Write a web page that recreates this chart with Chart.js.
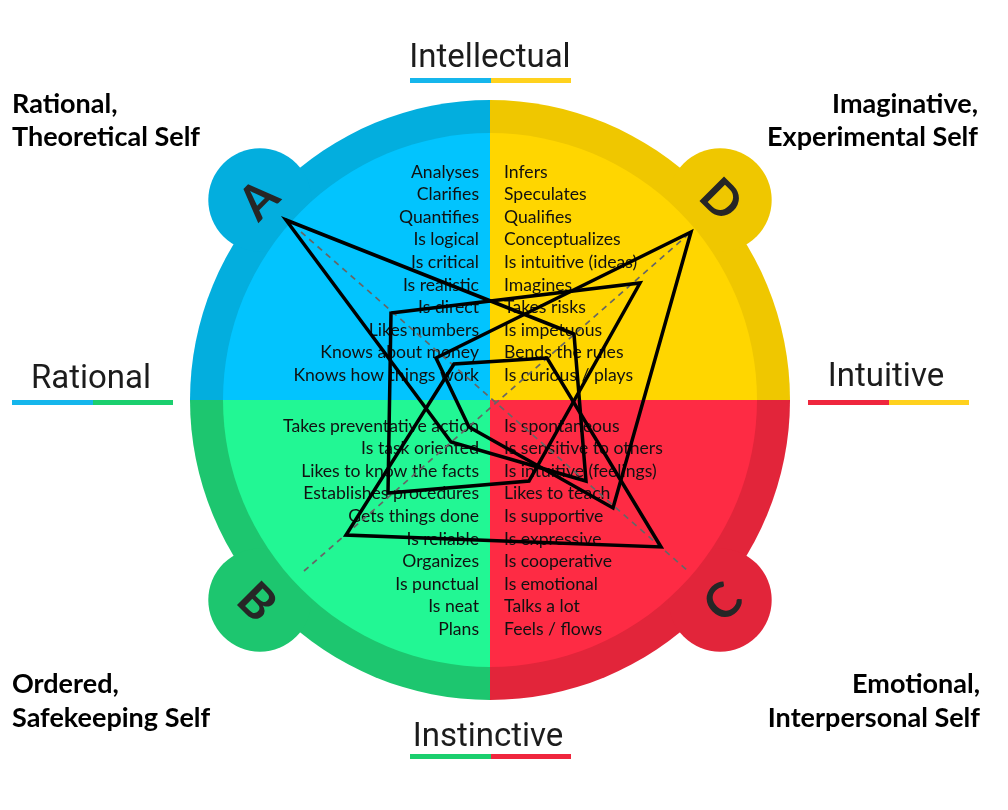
<!DOCTYPE html>
<html><head><meta charset="utf-8">
<script src="https://cdn.jsdelivr.net/npm/chart.js@4.4.1/dist/chart.umd.min.js"></script>
<style>html,body{margin:0;padding:0;background:#fff;}#wrap{width:1008px;height:810px;position:relative;}</style>
</head><body><div id="wrap"><canvas id="c" width="1008" height="810"></canvas></div>
<script>
// ---- data ----
const quadrantA = ["Analyses","Clarifies","Quantifies","Is logical","Is critical","Is realistic","Is direct","Likes numbers","Knows about money","Knows how things work"];
const quadrantD = ["Infers","Speculates","Qualifies","Conceptualizes","Is intuitive (ideas)","Imagines","Takes risks","Is impetuous","Bends the rules","Is curious / plays"];
const quadrantB = ["Takes preventative action","Is task oriented","Likes to know the facts","Establishes procedures","Gets things done","Is reliable","Organizes","Is punctual","Is neat","Plans"];
const quadrantC = ["Is spontaneous","Is sensitive to others","Is intuitive (feelings)","Likes to teach","Is supportive","Is expressive","Is cooperative","Is emotional","Talks a lot","Feels / flows"];
const quadrantLetters = ["A","D","C","B"];
const selfTitles = [["Rational,","Theoretical Self"],["Imaginative,","Experimental Self"],["Emotional,","Interpersonal Self"],["Ordered,","Safekeeping Self"]];
const axisNames = ["Intellectual","Intuitive","Instinctive","Rational"];

// profile vertices, order: A (upper-left), D (upper-right), C (lower-right), B (lower-left)
const profile1X = [-68, 28, 32, -13];
const profile1Y = [60, 22, -27, -14];
const profile2X = [-33, 50, 13, -34];
const profile2Y = [29, 39, -27, -31];
const profile3X = [-18, 67, 41, -7];
const profile3Y = [14, 56, -36, -9];
const profile4X = [-12, 19, 57, -48];
const profile4Y = [12, 14, -49, -45];
// dashed diagonals
const diagAX = [-63, 66], diagAY = [56, -57];
const diagBX = [-62, 67], diagBY = [-57, 56];

// ---- drawing ----
const quadColors = [
  {ring:'#03AEDE', inner:'#02C4FE', a0:Math.PI, a1:1.5*Math.PI, bx:-1, by:-1, rot:-45},
  {ring:'#EFC700', inner:'#FFD600', a0:1.5*Math.PI, a1:2*Math.PI, bx:1, by:-1, rot:45},
  {ring:'#E2253A', inner:'#FE2B44', a0:0, a1:0.5*Math.PI, bx:1, by:1, rot:-45},
  {ring:'#1DC66F', inner:'#22F794', a0:0.5*Math.PI, a1:Math.PI, bx:-1, by:1, rot:45}
];

const brainPlugin = {
  id: 'brain',
  beforeDatasetsDraw(chart) {
    const ctx = chart.ctx, xs = chart.scales.x, ys = chart.scales.y;
    const cx = xs.getPixelForValue(0), cy = ys.getPixelForValue(0);
    const R = xs.getPixelForValue(100) - cx;
    const r = R * 0.89;
    ctx.save();
    quadColors.forEach((q, i) => {
      ctx.fillStyle = q.ring;
      ctx.beginPath(); ctx.moveTo(cx, cy); ctx.arc(cx, cy, R, q.a0, q.a1); ctx.closePath(); ctx.fill();
      const bcx = cx + q.bx * R * 0.767, bcy = cy + q.by * R * 0.667;
      ctx.beginPath(); ctx.arc(bcx, bcy, R * 0.172, 0, 2 * Math.PI); ctx.fill();
      ctx.fillStyle = q.inner;
      ctx.beginPath(); ctx.moveTo(cx, cy); ctx.arc(cx, cy, r, q.a0, q.a1); ctx.closePath(); ctx.fill();
      // letter
      ctx.save();
      ctx.translate(bcx + q.bx * 2, bcy + q.by * 1);
      ctx.rotate(q.rot * Math.PI / 180);
      ctx.fillStyle = '#262626';
      ctx.font = 'bold 48px Lato, sans-serif';
      ctx.textAlign = 'center'; ctx.textBaseline = 'middle';
      ctx.fillText(quadrantLetters[i], 0, 2);
      ctx.restore();
    });
    // item texts
    ctx.fillStyle = '#111';
    ctx.font = '17.6px Lato, sans-serif';
    ctx.textBaseline = 'middle';
    const step = 22.6;
    ctx.textAlign = 'right';
    quadrantA.forEach((t, i) => ctx.fillText(t, cx - 11, cy - 228 + i * step));
    quadrantB.forEach((t, i) => ctx.fillText(t, cx - 11, cy + 26 + i * step));
    ctx.textAlign = 'left';
    quadrantD.forEach((t, i) => ctx.fillText(t, cx + 14, cy - 228 + i * step));
    quadrantC.forEach((t, i) => ctx.fillText(t, cx + 14, cy + 26 + i * step));
    ctx.restore();
  },
  afterDraw(chart) {
    const ctx = chart.ctx;
    ctx.save();
    // corner titles
    ctx.fillStyle = '#000';
    ctx.font = 'bold 27px Lato, sans-serif';
    ctx.textBaseline = 'middle';
    ctx.textAlign = 'left';
    ctx.fillText(selfTitles[0][0], 12, 104); ctx.fillText(selfTitles[0][1], 12, 137);
    ctx.fillText(selfTitles[3][0], 12, 684); ctx.fillText(selfTitles[3][1], 12, 718);
    ctx.textAlign = 'right';
    ctx.fillText(selfTitles[1][0], 978, 104); ctx.fillText(selfTitles[1][1], 978, 137);
    ctx.fillText(selfTitles[2][0], 980, 684); ctx.fillText(selfTitles[2][1], 980, 718);
    // axis names with bars
    ctx.font = '33px Roboto, sans-serif';
    ctx.textAlign = 'center';
    const axes = [
      {t: axisNames[0], x: 490, y: 59, bx: 410, by: 78, c1: '#15B6EC', c2: '#FFD21E'},
      {t: axisNames[1], x: 886, y: 378, bx: 808, by: 400, c1: '#EF263D', c2: '#FFD11E'},
      {t: axisNames[2], x: 488, y: 738, bx: 410, by: 754, c1: '#1BCF6E', c2: '#EF263D'},
      {t: axisNames[3], x: 91, y: 380, bx: 12, by: 400, c1: '#15B6EC', c2: '#1BCF6E'}
    ];
    axes.forEach(a => {
      ctx.fillStyle = '#1c1c1c';
      ctx.fillText(a.t, a.x, a.y);
      ctx.fillStyle = a.c1; ctx.fillRect(a.bx, a.by, 81, 5);
      ctx.fillStyle = a.c2; ctx.fillRect(a.bx + 81, a.by, 80, 5);
    });
    ctx.restore();
  }
};

const pts = (xs, ys) => xs.map((x, i) => ({x: x, y: ys[i]}));
const closed = (xs, ys) => { const p = pts(xs, ys); p.push(p[0], p[1]); return p; };
const profileStyle = {showLine: true, borderColor: '#000', borderWidth: 3.5, borderJoinStyle: 'miter', pointRadius: 0, tension: 0, fill: false, order: 1};
const diagStyle = {showLine: true, borderColor: '#666', borderWidth: 1.7, borderDash: [6, 5], pointRadius: 0, fill: false, order: 5};

new Chart(document.getElementById('c'), {
  type: 'scatter',
  data: {datasets: [
    Object.assign({label: 'Profile 1', data: closed(profile1X, profile1Y)}, profileStyle),
    Object.assign({label: 'Profile 2', data: closed(profile2X, profile2Y)}, profileStyle),
    Object.assign({label: 'Profile 3', data: closed(profile3X, profile3Y)}, profileStyle),
    Object.assign({label: 'Profile 4', data: closed(profile4X, profile4Y)}, profileStyle),
    Object.assign({label: 'Diagonal 1', data: pts(diagAX, diagAY)}, diagStyle),
    Object.assign({label: 'Diagonal 2', data: pts(diagBX, diagBY)}, diagStyle)
  ]},
  options: {
    responsive: false, animation: false, devicePixelRatio: 1,
    layout: {padding: {left: 190, right: 218, top: 100, bottom: 110}},
    scales: {
      x: {type: 'linear', min: -100, max: 100, display: false},
      y: {type: 'linear', min: -100, max: 100, display: false}
    },
    plugins: {legend: {display: false}, tooltip: {enabled: false}},
    events: []
  },
  plugins: [brainPlugin]
});
</script></body></html>
